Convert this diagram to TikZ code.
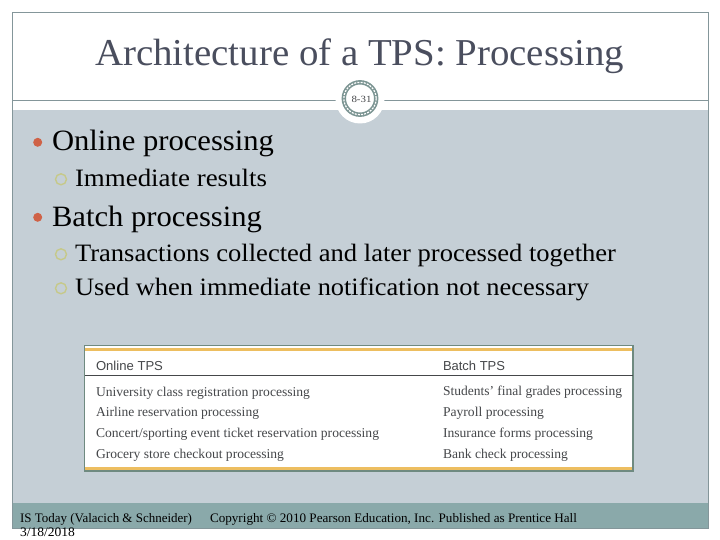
\documentclass[tikz,border=0pt]{standalone}
\usepackage{graphicx}
\usepackage{fontspec}
\setmainfont{Liberation Serif}
\newfontfamily\tabsans{Liberation Sans}
\newcommand{\fitw}[2]{\resizebox{#1pt}{\height}{#2}}
\definecolor{framegray}{HTML}{84969A}
\definecolor{bodyblue}{HTML}{C5CFD6}
\definecolor{bandteal}{HTML}{8AA9AA}
\definecolor{titleink}{HTML}{4A4E5E}
\definecolor{tableedge}{HTML}{6F8A80}
\definecolor{ringgray}{HTML}{7C9593}
\definecolor{tablegold}{HTML}{EDBE60}
\definecolor{tableink}{HTML}{45474A}
\definecolor{dotred}{HTML}{CF6247}
\definecolor{ringolive}{HTML}{C6C98A}
\tikzset{
  txt/.style={anchor=base west,inner sep=0pt,outer sep=0pt},
  titletxt/.style={txt,text=titleink,font=\fontsize{38}{38}\selectfont},
  lvlone/.style={txt,text=black,font=\fontsize{29.5}{30}\selectfont},
  lvltwo/.style={txt,text=black,font=\fontsize{25}{25}\selectfont},
  foot/.style={txt,text=black,font=\fontsize{13}{13}\selectfont},
  tabhead/.style={txt,text=tableink,font=\tabsans\fontsize{13}{13}\selectfont},
  tabrow/.style={txt,text=tableink,font=\fontsize{13.5}{13.5}\selectfont},
  dotbullet/.style={fill=dotred,draw=none},
  ringbullet/.style={draw=ringolive,line width=1.4pt,fill=none}
}
\begin{document}
\begin{tikzpicture}[x=1pt,y=-1pt]
\useasboundingbox (0,0) rectangle (720,540);
\fill[white] (0,0) rectangle (720,540);
\fill[bodyblue] (12,110) rectangle (708,503);
\fill[bandteal] (12,503) rectangle (708,528);
\draw[framegray,line width=0.8pt] (12,12) rectangle (708,528);
\draw[framegray,line width=0.8pt] (12,100) -- (708,100);
\fill[white] (360,99) circle (24.5);
\draw[ringgray,line width=4.4pt] (360,98.5) circle (16.2);
\draw[white,line width=1.2pt,dash pattern=on 2pt off 1.2pt] (360,98.5) circle (16.2);
\node[anchor=center,inner sep=0pt,text=tableink,font=\fontsize{9.5}{9.5}\selectfont] (page) at (361.5,99) {\fitw{20}{8-31}};
\node[titletxt] (title) at (95,65.5) {\fitw{529}{Architecture of a TPS: Processing}};
\fill[dotbullet] (37.7,142.3) circle (4.5);
\node[lvlone] (online) at (52,151) {\fitw{222}{Online processing}};
\draw[ringbullet] (61,179.3) circle (5.5);
\node[lvltwo] (immediate) at (75,186.5) {\fitw{192}{Immediate results}};
\fill[dotbullet] (37.7,217.3) circle (4.5);
\node[lvlone] (batch) at (52,226) {\fitw{210}{Batch processing}};
\draw[ringbullet] (61,254.3) circle (5.5);
\node[lvltwo] (collected) at (75,261.5) {\fitw{541}{Transactions collected and later processed together}};
\draw[ringbullet] (61,288.3) circle (5.5);
\node[lvltwo] (used) at (75,295.5) {\fitw{514}{Used when immediate notification not necessary}};
\fill[white] (84.5,345.5) rectangle (633,471);
\fill[tablegold] (85,348) rectangle (632,350.5);
\fill[tablegold] (85,466.5) rectangle (632,469.5);
\draw[tableedge,line width=1.5pt] (84.5,345.5) rectangle (633,471);
\draw[tableink,line width=0.7pt] (85,375) -- (632.5,375);
\node[tabhead] (hon) at (96,370) {\fitw{67}{Online TPS}};
\node[tabhead] (hba) at (443,370) {\fitw{62}{Batch TPS}};
\node[tabrow] (a1) at (96,396) {\fitw{214}{University class registration processing}};
\node[tabrow] (a2) at (96,416) {\fitw{163}{Airline reservation processing}};
\node[tabrow] (a3) at (96,437.5) {\fitw{283}{Concert/sporting event ticket reservation processing}};
\node[tabrow] (a4) at (96,458.5) {\fitw{188}{Grocery store checkout processing}};
\node[tabrow] (b1) at (443,395) {\fitw{179}{Students' final grades processing}};
\node[tabrow] (b2) at (443,416) {\fitw{101}{Payroll processing}};
\node[tabrow] (b3) at (443,437.5) {\fitw{150}{Insurance forms processing}};
\node[tabrow] (b4) at (443,458.5) {\fitw{125}{Bank check processing}};
\node[foot] (src) at (20,522) {\fitw{172}{IS Today (Valacich \& Schneider)}};
\node[foot] (date) at (20,536.5) {\fitw{55}{3/18/2018}};
\node[foot] (copy) at (210,522) {\fitw{367}{Copyright © 2010 Pearson Education, Inc. Published as Prentice Hall}};
\end{tikzpicture}
\end{document}
